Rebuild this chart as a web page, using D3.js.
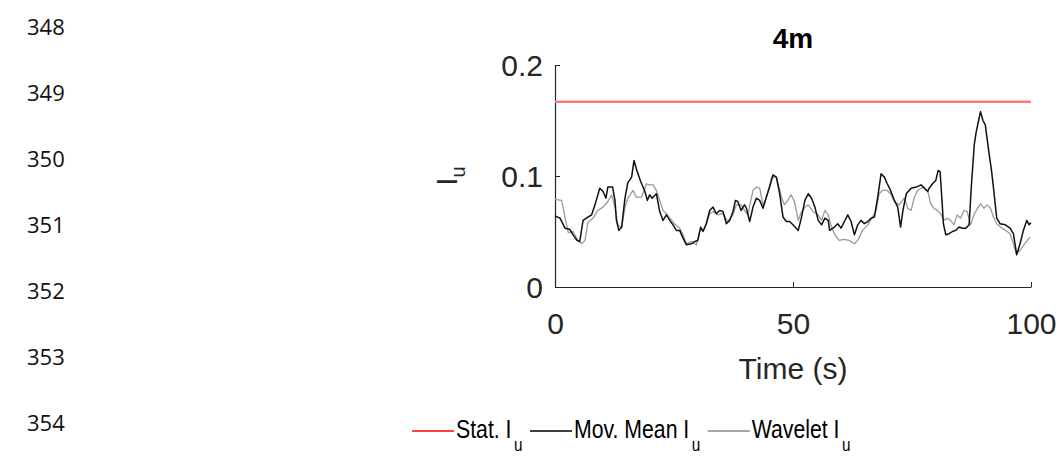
<!DOCTYPE html>
<html><head><meta charset="utf-8">
<script src="https://cdn.jsdelivr.net/npm/d3@7"></script>
<style>body{margin:0;background:#fff} svg{display:block}</style>
</head><body>
<svg id="c" width="1064" height="457"></svg>
<script>
const lineNumbers = [348, 349, 350, 351, 352, 353, 354];
const xTicks = [0, 50, 100];
const yTicks = [0, 0.1, 0.2];
const yTickLabels = ["0", "0.1", "0.2"];
const titleText = "4m";
const statValue = 0.167;

const movTime = [0,1.05,2.1,3.1,3.8,4.6,5.2,5.9,6.9,7.7,8.4,9.4,10.1,10.7,11.1,12.1,12.6,12.9,13.4,14.0,14.7,15.3,16.1,16.6,17.2,18.0,18.9,19.4,19.9,20.4,21.3,22.0,22.7,23.4,24.1,24.8,25.5,26.2,26.9,27.6,28.7,29.4,30.0,30.6,31.1,31.8,32.5,33.2,33.9,34.6,35.3,36.0,36.7,37.4,37.9,38.4,39.1,39.8,40.2,40.9,41.6,42.3,43.0,43.7,44.4,45.1,45.8,46.5,47.2,47.9,48.6,49.3,50.0,51.1,51.8,52.5,53.2,53.9,54.6,55.3,56.0,56.7,57.4,57.7,58.7,59.4,60.1,60.8,61.5,62.2,62.9,63.6,64.3,65.0,65.7,66.4,67.1,67.8,68.5,69.2,69.8,70.5,71.3,72.0,72.6,73.1,73.8,74.8,75.9,76.9,77.6,78.3,78.6,79.3,80.0,80.5,80.9,81.3,81.6,82.1,82.8,83.5,84.2,84.9,85.6,86.3,87.0,87.5,88.1,88.5,89.1,89.4,89.9,90.4,91.1,91.7,92.1,92.8,93.5,94.6,95.6,96.3,97.0,97.7,98.4,99.1,99.6,100];
const movVal = [0.064,0.062,0.053,0.052,0.047,0.042,0.041,0.060,0.063,0.065,0.074,0.089,0.086,0.080,0.090,0.090,0.078,0.060,0.051,0.054,0.080,0.094,0.099,0.114,0.105,0.095,0.086,0.078,0.083,0.080,0.084,0.068,0.060,0.065,0.060,0.056,0.051,0.051,0.044,0.038,0.039,0.041,0.042,0.054,0.050,0.057,0.069,0.072,0.066,0.069,0.068,0.057,0.060,0.068,0.078,0.077,0.069,0.074,0.071,0.059,0.072,0.080,0.078,0.071,0.081,0.090,0.101,0.099,0.084,0.063,0.059,0.059,0.056,0.051,0.063,0.078,0.084,0.080,0.072,0.060,0.056,0.062,0.060,0.051,0.054,0.057,0.053,0.059,0.065,0.059,0.047,0.056,0.060,0.057,0.059,0.062,0.063,0.081,0.102,0.099,0.093,0.087,0.078,0.072,0.054,0.069,0.084,0.089,0.090,0.092,0.089,0.086,0.089,0.093,0.096,0.105,0.104,0.078,0.057,0.047,0.048,0.050,0.051,0.054,0.053,0.053,0.056,0.093,0.129,0.140,0.152,0.158,0.150,0.146,0.123,0.105,0.090,0.062,0.057,0.056,0.053,0.048,0.029,0.039,0.051,0.060,0.056,0.058];

const wavTime = [0,1.4,2.1,2.8,3.8,4.8,5.6,6.3,6.9,8.0,9.0,10.1,11.1,11.9,12.6,13.2,14.0,14.7,15.3,16.4,17.1,18.2,19.2,19.9,20.6,21.3,22.0,22.7,23.4,24.1,25.1,26.2,26.9,27.6,28.7,29.7,30.4,31.4,32.5,33.2,34.2,35.3,36.3,37.4,38.1,39.1,39.8,40.5,41.6,42.3,43.0,43.7,44.4,45.5,46.5,47.6,48.2,48.9,49.6,50.3,51.1,51.8,52.5,53.2,54.2,55.3,56.0,56.7,57.4,58.1,58.8,59.7,60.8,61.8,62.9,63.6,64.6,65.7,66.7,67.4,68.1,68.8,69.8,70.5,71.3,72.3,73.4,74.1,74.8,75.5,76.2,77.3,78.3,78.9,79.6,80.3,81.0,81.7,82.4,83.1,83.8,84.5,85.2,85.9,86.6,87.3,88.1,88.8,89.4,90.1,90.8,91.5,92.1,92.8,93.9,95.0,95.6,96.3,96.9,97.7,98.7,99.8];
const wavVal = [0.079,0.078,0.063,0.049,0.050,0.042,0.039,0.042,0.058,0.062,0.069,0.072,0.077,0.083,0.072,0.056,0.053,0.072,0.080,0.087,0.081,0.081,0.093,0.092,0.092,0.087,0.078,0.069,0.066,0.062,0.057,0.053,0.047,0.039,0.041,0.038,0.050,0.053,0.066,0.068,0.065,0.066,0.059,0.065,0.074,0.074,0.069,0.065,0.087,0.090,0.089,0.074,0.080,0.099,0.099,0.081,0.074,0.078,0.083,0.077,0.060,0.068,0.072,0.074,0.068,0.065,0.060,0.069,0.065,0.054,0.047,0.042,0.043,0.042,0.039,0.042,0.051,0.056,0.063,0.068,0.084,0.087,0.087,0.084,0.077,0.074,0.080,0.071,0.069,0.081,0.087,0.090,0.087,0.075,0.071,0.069,0.066,0.060,0.062,0.060,0.056,0.065,0.062,0.069,0.068,0.056,0.066,0.071,0.075,0.071,0.074,0.071,0.063,0.057,0.053,0.050,0.048,0.039,0.030,0.033,0.039,0.045];

const legendLabels = ["Stat. I", "Mov. Mean I", "Wavelet I"];

const FONT = "'Liberation Sans', Arial, Helvetica, sans-serif";
const svg = d3.select("#c");

// line numbers
svg.append("g").selectAll("text").data(lineNumbers).join("text")
  .attr("x", 27).attr("y", (d, i) => 35 + i * 66)
  .attr("font-family", "'Open Sans', 'Noto Sans', sans-serif")
  .attr("font-size", 22).attr("fill", "#111").text(d => d);

const x = d3.scaleLinear().domain([0, 100]).range([555, 1031]);
const y = d3.scaleLinear().domain([0, 0.2]).range([287, 65]);

// axes
const gx = svg.append("g").attr("transform", `translate(0,${y(0)})`)
  .call(d3.axisBottom(x).tickValues(xTicks).tickSize(-5).tickSizeOuter(0).tickPadding(12).tickFormat(d3.format("d")));
const gy = svg.append("g").attr("transform", `translate(${x(0)},0)`)
  .call(d3.axisLeft(y).tickValues(yTicks).tickSize(-5).tickSizeOuter(0).tickPadding(12).tickFormat((d, i) => yTickLabels[i]));
[gx, gy].forEach(g => {
  g.select(".domain").attr("stroke", "#262626").attr("stroke-width", 1.2);
  g.selectAll(".tick line").attr("stroke", "#262626");
  g.selectAll(".tick text").attr("font-family", FONT).attr("font-size", 30).attr("fill", "#262626");
});
gx.selectAll(".tick text").attr("dy", "1.15em");
gy.selectAll(".tick text").attr("dy", "0.36em");

// stat line
svg.append("line").attr("x1", x(0)).attr("x2", x(100))
  .attr("y1", y(statValue)).attr("y2", y(statValue))
  .attr("stroke", "#ff7a7a").attr("stroke-width", 2.5);

const lineGen = (tArr, vArr) => d3.line().x((d, i) => x(tArr[i])).y((d, i) => y(vArr[i]))(vArr);
svg.append("path").attr("d", lineGen(wavTime, wavVal)).attr("fill", "none")
  .attr("stroke", "#9a9a9a").attr("stroke-width", 1.3).attr("stroke-linejoin", "round");
svg.append("path").attr("d", lineGen(movTime, movVal)).attr("fill", "none")
  .attr("stroke", "#111").attr("stroke-width", 1.5).attr("stroke-linejoin", "round");

// title
svg.append("text").attr("x", (x(0) + x(100)) / 2).attr("y", 48).attr("text-anchor", "middle")
  .attr("font-family", FONT).attr("font-weight", "bold").attr("font-size", 28).attr("fill", "#000").text(titleText);

// x label
svg.append("text").attr("x", (x(0) + x(100)) / 2).attr("y", 379).attr("text-anchor", "middle")
  .attr("font-family", FONT).attr("font-size", 30).attr("fill", "#262626").text("Time (s)");

// y label
const yl = svg.append("text").attr("transform", `translate(457,${y(0.1)}) rotate(-90)`)
  .attr("text-anchor", "middle").attr("font-family", FONT).attr("font-size", 30).attr("fill", "#262626");
yl.append("tspan").text("I");
yl.append("tspan").attr("font-size", 20).attr("dy", 8).text("u");

// legend
const legColors = ["#ff0000", "#000000", "#8a8a8a"];
const sx = 0.85;
let lx = 412;
const ly = 431;
legendLabels.forEach((lab, i) => {
  svg.append("line").attr("x1", lx).attr("x2", lx + 42).attr("y1", ly).attr("y2", ly)
    .attr("stroke", legColors[i]).attr("stroke-width", 1.3);
  const t = svg.append("text").attr("transform", `translate(${lx + 44},${ly + 7}) scale(${sx},1)`)
    .attr("font-family", FONT).attr("font-size", 25).attr("fill", "#000");
  t.append("tspan").text(lab);
  t.append("tspan").attr("font-size", 18).attr("dy", 13).attr("dx", 3).text("u");
  lx += 44 + t.node().getComputedTextLength() * sx + 10;
});
</script>
</body></html>
